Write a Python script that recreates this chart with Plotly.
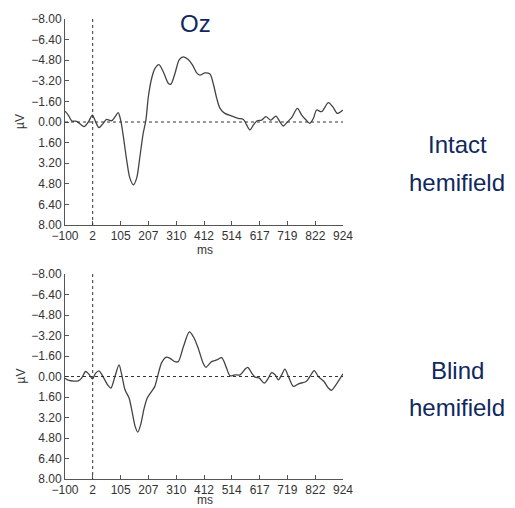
import plotly.graph_objects as go

# Grand-average ERP at electrode Oz, negative voltage plotted upward
intact_ms = [-100, -88, -75, -57, -30, -14, 1, 13, 25, 39, 53, 72, 84, 96, 105, 115, 127, 139,
             152, 164, 176, 188, 198, 207, 219, 231, 246, 262, 281, 290, 305, 321, 336, 354,
             370, 385, 397, 416, 434, 446, 459, 471, 489, 514, 538, 557, 569, 581, 594, 608,
             624, 640, 658, 677, 692, 704, 719, 735, 756, 772, 788, 802, 815, 827, 845, 870,
             886, 903, 923]
intact_uv = [-0.85, -0.54, -0.08, -0.05, 0.36, 0.0, -0.54, 0.0, 0.44, 0.15, -0.2, -0.1, -0.4,
             -0.72, -0.15, 1.14, 2.94, 4.36, 4.88, 4.36, 2.68, 0.88, -0.15, -1.96, -3.38, -4.15,
             -4.46, -3.9, -2.99, -2.94, -3.77, -4.85, -5.06, -4.85, -4.41, -3.82, -3.64, -3.82,
             -3.72, -2.99, -1.83, -1.06, -0.67, -0.46, -0.28, -0.2, 0.23, 0.62, 0.23, -0.1,
             -0.15, -0.41, -0.15, -0.46, 0.0, 0.31, 0.0, -0.34, -1.06, -0.54, -0.15, 0.1,
             -0.28, -0.93, -0.8, -1.5, -1.19, -0.67, -0.93]

blind_ms = [-100, -85, -51, -39, -24, -10, 1, 13, 25, 41, 57, 69, 84, 99, 109, 121, 136, 148,
            158, 168, 179, 191, 203, 219, 231, 241, 256, 272, 287, 305, 317, 336, 358, 373,
            391, 409, 419, 440, 459, 477, 493, 508, 526, 545, 563, 573, 588, 600, 616, 634,
            649, 661, 674, 686, 698, 710, 722, 741, 760, 788, 802, 818, 833, 854, 870, 882,
            894, 910, 924]
blind_uv = [0.13, 0.31, 0.34, 0.13, -0.39, -0.13, 0.18, -0.26, -0.44, 0.05, 0.65, 0.9, 0.0,
            -0.9, -0.13, 1.03, 1.68, 2.84, 3.87, 4.34, 3.74, 2.53, 1.68, 1.16, 0.77, 0.0,
            -1.08, -1.5, -1.42, -1.16, -1.16, -2.32, -3.48, -3.1, -2.19, -1.03, -0.72, -1.16,
            -1.29, -1.47, -0.77, -0.05, -0.13, -0.13, -0.57, -0.72, -0.26, 0.05, 0.13, 0.52,
            0.13, -0.31, -0.13, 0.26, -0.13, -0.57, -0.05, 0.77, 0.57, 0.39, 0.0, -0.46, 0.0,
            0.39, 0.9, 1.08, 0.77, 0.26, -0.21]

x_ticks = [-100, 2, 105, 207, 310, 412, 514, 617, 719, 822, 924]
x_tick_text = ["\u2212100", "2", "105", "207", "310", "412", "514", "617", "719", "822", "924"]
y_ticks = [-8.0, -6.4, -4.8, -3.2, -1.6, 0.0, 1.6, 3.2, 4.8, 6.4, 8.0]
y_tick_text = ["\u22128.00", "\u22126.40", "\u22124.80", "\u22123.20", "\u22121.60", "0.00",
               "1.60", "3.20", "4.80", "6.40", "8.00"]

panels = [("Intact", "hemifield"), ("Blind", "hemifield")]

W, H = 515, 508
NAVY = "#10285e"
AXIS = "#555555"
TXT = "#333333"
FONT = "Liberation Sans, Arial, sans-serif"

x_dom = [65 / W, 343 / W]
top_px = [(19, 225), (274, 479)]
y_doms = [[1 - b / H, 1 - t / H] for t, b in top_px]

fig = go.Figure()
series = [(intact_ms, intact_uv), (blind_ms, blind_uv)]
for i, (xs, ys) in enumerate(series):
    n = "" if i == 0 else str(i + 1)
    fig.add_trace(go.Scatter(
        x=xs, y=ys, mode="lines", xaxis="x" + n, yaxis="y" + n,
        line=dict(color="#444444", width=1.3, shape="spline", smoothing=0.8),
        showlegend=False, hoverinfo="skip"))

    axis_common = dict(showgrid=False, zeroline=False, showline=True, linecolor=AXIS,
                       linewidth=1, ticks="inside", ticklen=4, tickcolor=AXIS, tickwidth=1,
                       tickfont=dict(family=FONT, size=12, color=TXT), fixedrange=True,
                       automargin=False)
    fig.update_layout(**{
        "xaxis" + n: dict(domain=x_dom, range=[-100, 924], anchor="y" + n,
                          tickmode="array", tickvals=x_ticks, ticktext=x_tick_text,
                          **axis_common),
        "yaxis" + n: dict(domain=y_doms[i], range=[8, -8], anchor="x" + n,
                          tickmode="array", tickvals=y_ticks, ticktext=y_tick_text,
                          **axis_common),
    })

    # stimulus onset and zero-voltage reference lines
    fig.add_shape(type="line", xref="x" + n, yref="y" + n, x0=2, x1=2, y0=-8, y1=8,
                  line=dict(color=TXT, width=1, dash="dot"))
    fig.add_shape(type="line", xref="x" + n, yref="y" + n, x0=-100, x1=924, y0=0, y1=0,
                  line=dict(color=TXT, width=1, dash="dot"))

    t, b = top_px[i]
    fig.add_annotation(text="\u00b5V", xref="paper", yref="paper", x=20 / W,
                       y=1 - ((t + b) / 2) / H, textangle=-90, showarrow=False,
                       xanchor="center", yanchor="middle",
                       font=dict(family=FONT, size=12, color=TXT))
    # x-axis title sits just under the tick labels
    if i == 0:
        ms_pos = dict(y=1 - (b + 25) / H, yanchor="middle")
    else:
        ms_pos = dict(y=0, yanchor="bottom")
    fig.add_annotation(text="ms", xref="paper", yref="paper", x=205 / W, showarrow=False,
                       xanchor="center", borderpad=0,
                       font=dict(family=FONT, size=12, color=TXT), **ms_pos)

    # condition label to the right of each panel
    first, second = panels[i]
    label_y = [145, 182] if i == 0 else [370, 407]
    for word, yy in zip((first, second), label_y):
        fig.add_annotation(text=word, xref="paper", yref="paper", x=457 / W, y=1 - yy / H,
                           xanchor="center", yanchor="middle", showarrow=False,
                           font=dict(family=FONT, size=24, color=NAVY))

fig.add_annotation(text="Oz", xref="paper", yref="paper", x=195 / W, y=1 - 23 / H,
                   xanchor="center", yanchor="middle", showarrow=False,
                   font=dict(family=FONT, size=24, color=NAVY))

fig.update_layout(width=W, height=H, margin=dict(l=0, r=0, t=0, b=0),
                  paper_bgcolor="white", plot_bgcolor="white")

fig.write_html("out.html")
